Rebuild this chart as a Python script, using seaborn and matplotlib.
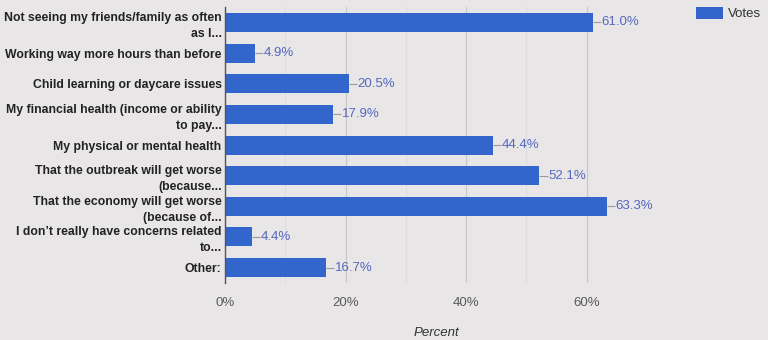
import matplotlib
matplotlib.use("Agg")
import matplotlib.pyplot as plt
from matplotlib.patches import Patch
from matplotlib.ticker import MultipleLocator, FuncFormatter
import seaborn as sns
import pandas as pd

categories = [
    "Not seeing my friends/family as often\nas I...",
    "Working way more hours than before",
    "Child learning or daycare issues",
    "My financial health (income or ability\nto pay...",
    "My physical or mental health",
    "That the outbreak will get worse\n(because...",
    "That the economy will get worse\n(because of...",
    "I don\u2019t really have concerns related\nto...",
    "Other:",
]
votes_pct = [61.0, 4.9, 20.5, 17.9, 44.4, 52.1, 63.3, 4.4, 16.7]

BG = "#e8e6e6"
BAR = "#3366cc"
LABEL = "#5568c0"

sns.set_theme(style="white")
plt.rcParams["font.family"] = ["Liberation Sans", "DejaVu Sans"]

df = pd.DataFrame({"concern": categories, "pct": votes_pct})

fig = plt.figure(figsize=(7.68, 3.4), dpi=100, facecolor=BG)
ax = fig.add_axes([0.293, 0.168, 0.5495, 0.811])
ax.set_facecolor(BG)

sns.barplot(data=df, y="concern", x="pct", orient="h", color=BAR,
            saturation=1, width=0.62, linewidth=0, ax=ax)

ax.set_xlim(0, 70)
ax.xaxis.set_major_locator(MultipleLocator(20))
ax.xaxis.set_minor_locator(MultipleLocator(10))
ax.xaxis.set_major_formatter(FuncFormatter(lambda v, p: f"{v:.0f}%"))
ax.grid(axis="x", which="major", color="#c9c8c8", linewidth=0.9)
ax.grid(axis="x", which="minor", color="#dddbdb", linewidth=0.8)
ax.set_axisbelow(True)

for s in ["top", "right", "bottom"]:
    ax.spines[s].set_visible(False)
ax.spines["left"].set_color("#555555")
ax.spines["left"].set_linewidth(1.0)

ax.tick_params(axis="x", which="both", length=0, colors="#5a5a5a",
               labelsize=9.5, pad=10)
ax.tick_params(axis="y", length=0, pad=2.5)
for t in ax.get_yticklabels():
    t.set_fontweight("bold")
    t.set_fontsize(8.8)
    t.set_color("#222222")
    t.set_linespacing(1.45)

ax.set_ylabel("")
ax.set_xlabel("Percent", fontstyle="italic", color="#333333",
              fontsize=9.5, labelpad=13)

# value labels with short leader lines
for i, v in enumerate(votes_pct):
    ax.plot([v, v + 1.4], [i, i], color="#9a9a9a", linewidth=0.8,
            solid_capstyle="butt")
    ax.text(v + 1.5, i, f"{v:.1f}%", va="center", ha="left",
            color=LABEL, fontsize=9.5)

ax.set_ylim(len(categories) - 0.5, -0.5)

fig.legend(handles=[Patch(facecolor=BAR, edgecolor="none", label="Votes")],
           loc="upper left", bbox_to_anchor=(0.9, 0.995), frameon=False,
           fontsize=9.5, handlelength=2.0, handleheight=1.0,
           handletextpad=0.4, borderaxespad=0, labelcolor="#333333")

fig.savefig("out.png", dpi=100, facecolor=BG)
